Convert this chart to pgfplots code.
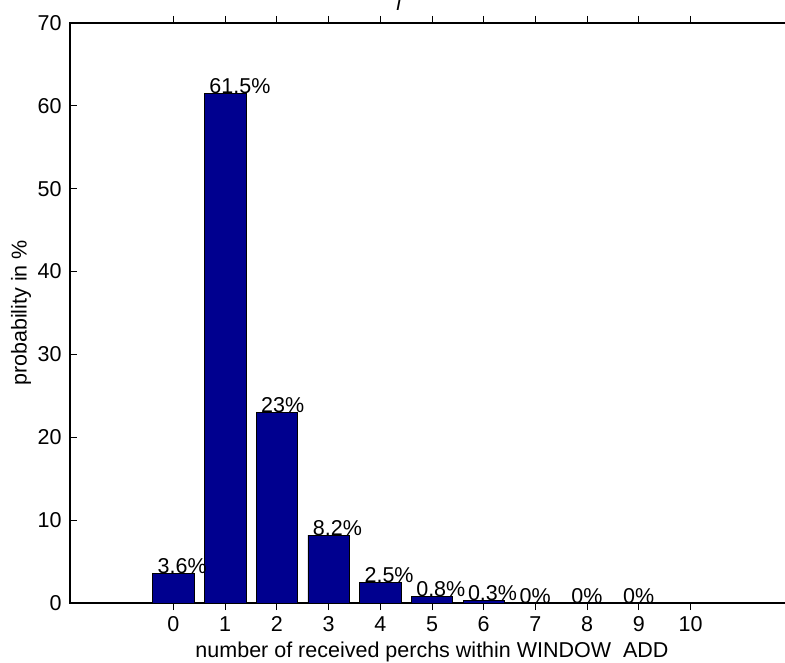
\documentclass[border=0pt]{standalone}
\usepackage{fontspec}
\setmainfont{Liberation Sans}
\usepackage{pgfplots}
\pgfplotsset{compat=1.18}
\definecolor{barblue}{RGB}{0,0,143}
\begin{document}
\fontsize{21.5}{25}\selectfont
\begin{tikzpicture}
\begin{axis}[
  scale only axis, width=724pt, height=580pt,
  xmin=-2, xmax=12, ymin=0, ymax=70,
  xtick={0,1,...,10}, ytick={0,10,...,70},
  tick align=inside, major tick length=7pt,
  axis line style={line width=1.4pt},
  tick style={line width=0.8pt, black},
  /pgf/number format/assume math mode=true,
  ticklabel style={font=\fontsize{21.5}{25}\selectfont},
  xticklabel style={yshift=1pt},
  yticklabel style={xshift=-1pt},
  label style={font=\fontsize{21.5}{25}\selectfont},
  xlabel={number of received perchs within WINDOW\hspace{0.55em}ADD},
  ylabel={probability in \%},
  xlabel style={yshift=4pt},
  ylabel style={yshift=-8pt},
  ybar, bar width=0.8,
  point meta=explicit symbolic,
  nodes near coords,
  every node near coord/.append style={anchor=base west, inner sep=0pt, xshift=-16pt, yshift=0pt, font=\fontsize{21.5}{25}\selectfont},
]
\addplot[fill=barblue, draw=black, line width=0.6pt] coordinates {
  (0,3.6) [3.6\%]
  (1,61.5) [61.5\%]
  (2,23) [23\%]
  (3,8.2) [8.2\%]
  (4,2.5) [2.5\%]
  (5,0.8) [0.8\%]
  (6,0.3) [0.3\%]
  (7,0) [0\%]
  (8,0) [0\%]
  (9,0) [0\%]
};
\coordinate (O) at (rel axis cs:0,0);
\end{axis}
\node[anchor=base, inner sep=0pt] at ([shift={(329pt,592pt)}]O) {\textit{l}};
\pgfresetboundingbox
\useasboundingbox ([shift={(-70pt,-59pt)}]O) rectangle ([shift={(715pt,603pt)}]O);
\end{tikzpicture}
\end{document}
